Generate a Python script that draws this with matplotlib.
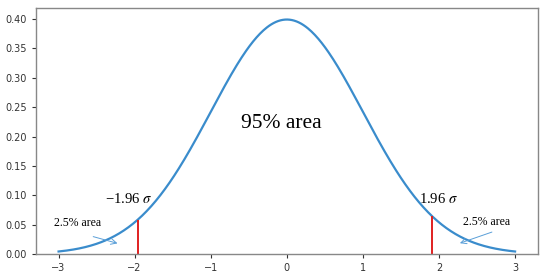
import numpy as np
import matplotlib
matplotlib.use("Agg")
import matplotlib.pyplot as plt

plt.rcParams["mathtext.fontset"] = "stix"

x_min, x_max = -3.0, 3.0
crit_left, crit_right = -1.96, 1.91
labels = {"center": "95% area", "left_sigma": "\u22121.96 $\\sigma$", "right_sigma": "1.96 $\\sigma$", "tail": "2.5% area"}

x = np.linspace(x_min, x_max, 400)
pdf = lambda v: np.exp(-v**2 / 2) / np.sqrt(2 * np.pi)
y = pdf(x)

fig = plt.figure(figsize=(5.5, 2.75), dpi=100)
ax = fig.add_axes([0.065, 0.076, 0.913, 0.895])
ax.plot(x, y, color="#3a8ccc", lw=1.6)
ax.vlines([crit_left, crit_right], 0, [pdf(crit_left), pdf(crit_right)], color="#e02020", lw=1.4)

ax.set_xlim(-3.3, 3.3)
ax.set_ylim(0, 0.4186)
ax.set_yticks(np.arange(0, 0.41, 0.05))
ax.set_yticklabels([f"{t:.2f}" for t in np.arange(0, 0.41, 0.05)])
ax.set_xticks([-3, -2, -1, 0, 1, 2, 3])
ax.set_xticklabels(["\u22123", "\u22122", "\u22121", "0", "1", "2", "3"])
ax.tick_params(labelsize=7, colors="#333333", length=3, width=0.8)
for s in ax.spines.values():
    s.set_color("#888888")
    s.set_linewidth(1.0)

serif = "Liberation Serif"
ax.text(-0.07, 0.222, labels["center"], fontsize=15.5, family=serif, ha="center", va="center")
ax.text(-2.08, 0.094, labels["left_sigma"], fontsize=10.5, family=serif, ha="center", va="center")
ax.text(1.99, 0.094, labels["right_sigma"], fontsize=10.5, family=serif, ha="center", va="center")
ax.text(-2.75, 0.053, labels["tail"], fontsize=8.5, family=serif, ha="center", va="center")
ax.text(2.63, 0.054, labels["tail"], fontsize=8.5, family=serif, ha="center", va="center")

ap = dict(arrowstyle="->", color="#5a9fd8", lw=0.7)
ax.annotate("", xy=(-2.19, 0.017), xytext=(-2.58, 0.031), arrowprops=ap)
ax.annotate("", xy=(2.24, 0.017), xytext=(2.73, 0.039), arrowprops=ap)

fig.savefig("out.png", dpi=100)
